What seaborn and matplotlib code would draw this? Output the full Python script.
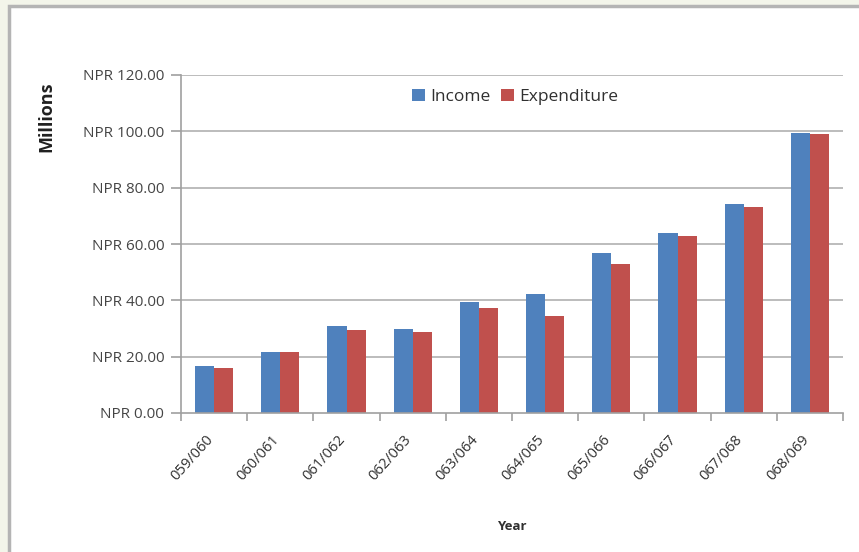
import numpy as np
import pandas as pd
import seaborn as sns
import matplotlib
matplotlib.use('Agg')
import matplotlib.pyplot as plt
from matplotlib.patches import Rectangle
from matplotlib.ticker import FuncFormatter, FixedLocator
from matplotlib.transforms import ScaledTranslation

years = ['059/060', '060/061', '061/062', '062/063', '063/064',
         '064/065', '065/066', '066/067', '067/068', '068/069']
income = [16.7, 21.8, 30.9, 29.9, 39.5, 42.2, 56.9, 63.8, 74.2, 99.5]
expenditure = [15.9, 21.5, 29.4, 28.6, 37.4, 34.5, 52.8, 62.8, 73.2, 98.9]
yticks = [0, 20, 40, 60, 80, 100, 120]

df = pd.DataFrame({'Year': years * 2,
                   'Value': income + expenditure,
                   'Series': ['Income'] * len(years) + ['Expenditure'] * len(years)})

sns.set_style('white')
plt.rcParams['font.family'] = ['Open Sans', 'DejaVu Sans']

fig = plt.figure(figsize=(8.59, 5.52), dpi=100, facecolor='#f3f5ea')
# white chart area with grey frame (only left/top edges show in the crop)
fig.add_artist(Rectangle((9 / 859, -0.05), 1.1, 1.05 - 6 / 552, transform=fig.transFigure,
                         facecolor='white', edgecolor='#b4b4b4', linewidth=2.5, zorder=-10))

ax = fig.add_axes([181 / 859, 139 / 552, 662 / 859, 338 / 552])
ax.set_facecolor('white')

sns.barplot(data=df, x='Year', y='Value', hue='Series', ax=ax,
            palette=['#4f81bd', '#c0504d'], width=0.58, saturation=1, gap=0,
            linewidth=0, edgecolor='none', zorder=2)

# horizontal grid, stopped at the last category edge
ax.hlines(yticks[1:], -0.5, len(years) - 0.5, color='#b0b0b0', linewidth=1.2, zorder=0)

ax.set_ylim(0, 120)
ax.set_xlim(-0.5, len(years) - 0.5)
ax.set_yticks(yticks)
ax.yaxis.set_major_formatter(FuncFormatter(lambda v, p: f'NPR {v:.2f}'))
ax.grid(False)

for s in ['top', 'right']:
    ax.spines[s].set_visible(False)
for s in ['left', 'bottom']:
    ax.spines[s].set_color('#a0a0a0')
    ax.spines[s].set_linewidth(1.2)

ax.tick_params(axis='y', left=True, right=False, length=7, color='#a0a0a0', width=1.2,
               labelsize=11, labelcolor='#454545', pad=5)
ax.tick_params(axis='x', which='major', bottom=True, length=0, labelsize=10.5,
               labelcolor='#303030', pad=14)
ax.xaxis.set_minor_locator(FixedLocator(np.arange(-0.5, len(years), 1)))
ax.tick_params(axis='x', which='minor', bottom=True, length=6, color='#a0a0a0', width=1.2)
shift = ScaledTranslation(-9 / 100, 0, fig.dpi_scale_trans)
for lbl in ax.get_xticklabels():
    lbl.set_rotation(48)
    lbl.set_ha('right')
    lbl.set_rotation_mode('anchor')
    lbl.set_transform(lbl.get_transform() + shift)

ax.set_xlabel('Year', fontsize=9.5, fontweight='bold', color='#303030', labelpad=26)
ax.set_ylabel('Millions', fontsize=13, fontweight='bold', color='#202020')
ax.yaxis.set_label_coords(-0.19, 0.876)

leg = ax.legend(loc='center', bbox_to_anchor=(0.505, 0.935), ncol=2, frameon=False,
                fontsize=12.5, handlelength=0.75, handleheight=0.75, handletextpad=0.3,
                columnspacing=0.6)
for t in leg.get_texts():
    t.set_color('#303030')

fig.savefig('out.png', dpi=100, facecolor=fig.get_facecolor())
